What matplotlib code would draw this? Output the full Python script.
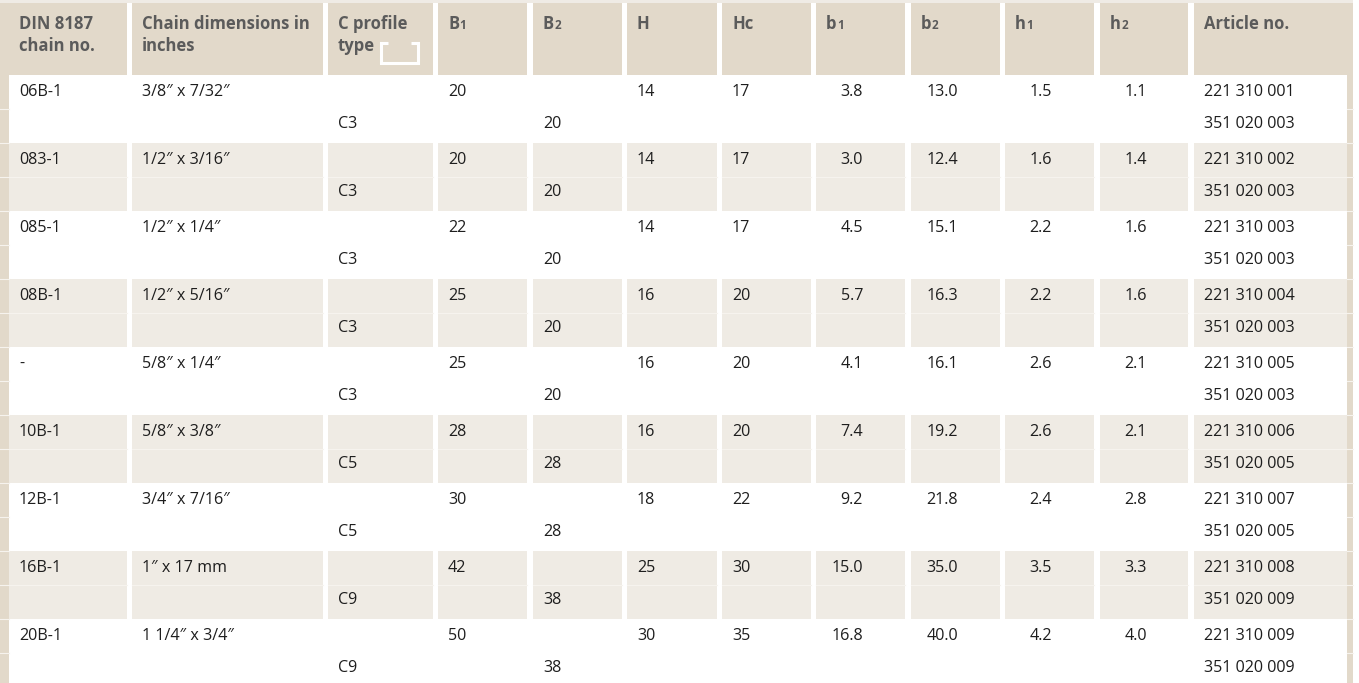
import matplotlib
matplotlib.use("Agg")
import matplotlib.pyplot as plt

# ---------------- data ----------------
headers = [["DIN 8187", "chain no."], ["Chain dimensions in", "inches"], ["C profile", "type"],
           ["B", "1"], ["B", "2"], ["H", ""], ["Hc", ""], ["b", "1"], ["b", "2"], ["h", "1"], ["h", "2"],
           ["Article no.", ""]]
chain_no = ["06B-1", "083-1", "085-1", "08B-1", "-", "10B-1", "12B-1", "16B-1", "20B-1"]
chain_dim = ["3/8\u2033 x 7/32\u2033", "1/2\u2033 x 3/16\u2033", "1/2\u2033 x 1/4\u2033", "1/2\u2033 x 5/16\u2033",
             "5/8\u2033 x 1/4\u2033", "5/8\u2033 x 3/8\u2033", "3/4\u2033 x 7/16\u2033", "1\u2033 x 17 mm",
             "1 1/4\u2033 x 3/4\u2033"]
profile = ["C3", "C3", "C3", "C3", "C3", "C5", "C5", "C9", "C9"]
B1 = [20, 20, 22, 25, 25, 28, 30, 42, 50]
B2 = [20, 20, 20, 20, 20, 28, 28, 38, 38]
H = [14, 14, 14, 16, 16, 16, 18, 25, 30]
Hc = [17, 17, 17, 20, 20, 20, 22, 30, 35]
b1 = [3.8, 3.0, 4.5, 5.7, 4.1, 7.4, 9.2, 15.0, 16.8]
b2 = [13.0, 12.4, 15.1, 16.3, 16.1, 19.2, 21.8, 35.0, 40.0]
h1 = [1.5, 1.6, 2.2, 2.2, 2.6, 2.6, 2.4, 3.5, 4.2]
h2 = [1.1, 1.4, 1.6, 1.6, 2.1, 2.1, 2.8, 3.3, 4.0]
article_chain = ["221 310 001", "221 310 002", "221 310 003", "221 310 004", "221 310 005",
                 "221 310 006", "221 310 007", "221 310 008", "221 310 009"]
article_profile = ["351 020 003", "351 020 003", "351 020 003", "351 020 003", "351 020 003",
                   "351 020 005", "351 020 005", "351 020 009", "351 020 009"]

# ---------------- layout ----------------
W, Hpx = 1359, 683
fig = plt.figure(figsize=(W / 100, Hpx / 100), dpi=100)
ax = fig.add_axes([0, 0, 1, 1])
ax.set_xlim(0, W)
ax.set_ylim(Hpx, 0)
ax.axis("off")

HEAD_C = "#e2d9ca"
BAND_C = "#efebe4"
TOP_C = "#efebe5"
LINE_C = "#f6f3ee"
HEAD_TXT = "#5b5b5b"
BODY_TXT = "#1e1e1e"
BODY_FONT = "Open Sans"
HEAD_FONT = "Open Sans"
FS = 11.6
HFS = 12.0

cols = [(9, 127), (132, 323), (328, 433), (438, 527), (533, 622), (627, 717), (722, 811),
        (816, 905), (911, 1000), (1005, 1094), (1100, 1188), (1194, 1347)]
head_top, head_bot = 3, 75
g0, pitch, sub = 75, 68, 34

def rect(x0, y0, x1, y1, c, z=0):
    ax.add_patch(plt.Rectangle((x0, y0), x1 - x0, y1 - y0, facecolor=c, edgecolor="none", zorder=z))

# top strip
rect(0, 0, 1353, head_top, TOP_C)
# header cells
for i, (a, b) in enumerate(cols):
    x0 = 0 if i == 0 else a
    x1 = 1353 if i == len(cols) - 1 else b
    rect(x0, head_top, x1, head_bot, HEAD_C)
# side strips
rect(0, head_bot, 9, Hpx, HEAD_C)
rect(1347, head_bot, 1353, Hpx, HEAD_C)
# bands
n = len(chain_no)
for gi in range(n):
    g = g0 + gi * pitch
    if gi % 2 == 1:
        for (a, b) in cols:
            rect(a, g, b, g + pitch, BAND_C)
# thin lighter lines at sub-row boundaries (visible on strips and bands only)
for gi in range(n):
    g = g0 + gi * pitch
    for yy in (g + sub, g + pitch):
        if yy < Hpx:
            ax.plot([0, 9], [yy, yy], color=LINE_C, lw=0.8, zorder=1)
            ax.plot([1347, 1353], [yy, yy], color=LINE_C, lw=0.8, zorder=1)
    if gi % 2 == 1:
        for (a, b) in cols:
            ax.plot([a, b], [g + sub, g + sub], color=LINE_C, lw=0.8, zorder=1)

renderer = fig.canvas.get_renderer()

# header text
for i, (a, b) in enumerate(cols):
    l1, l2 = headers[i]
    x = a + 10
    if i in (3, 4, 7, 8, 9, 10):
        t = ax.text(x, 24, l1, fontsize=HFS, fontweight="bold", family=HEAD_FONT, color=HEAD_TXT,
                    va="center", ha="left")
        bb = t.get_window_extent(renderer=renderer)
        ax.text(x + bb.width + 0.5, 29, l2, fontsize=HFS * 0.7, fontweight="bold", family=HEAD_FONT,
                color=HEAD_TXT, va="baseline", ha="left")
    else:
        ax.text(x, 24, l1, fontsize=HFS, fontweight="bold", family=HEAD_FONT, color=HEAD_TXT,
                va="center", ha="left")
        if l2:
            t2 = ax.text(x, 46, l2, fontsize=HFS, fontweight="bold", family=HEAD_FONT, color=HEAD_TXT,
                         va="center", ha="left")
            if i == 2:
                bb = t2.get_window_extent(renderer=renderer)
                xs = x + bb.width + 6
                ax.plot([xs + 7, xs, xs, xs + 37, xs + 37, xs + 30],
                        [42.5, 42.5, 63, 63, 42.5, 42.5], color="white", lw=2.2,
                        solid_joinstyle="miter", solid_capstyle="butt", zorder=3)

# body text
def put(col, y, s, align="left"):
    a, b = cols[col]
    if align == "left":
        ax.text(a + 10, y, s, fontsize=FS, family=BODY_FONT, color=BODY_TXT, va="center", ha="left")
    else:
        ax.text(a + 47, y, s, fontsize=FS, family=BODY_FONT, color=BODY_TXT, va="center", ha="right")

for gi in range(n):
    g = g0 + gi * pitch
    y1 = g + 16.5
    y2 = g + 49
    put(0, y1, chain_no[gi])
    put(1, y1, chain_dim[gi])
    put(2, y2, profile[gi])
    put(3, y1, f"{B1[gi]}")
    put(4, y2, f"{B2[gi]}")
    put(5, y1, f"{H[gi]}")
    put(6, y1, f"{Hc[gi]}")
    put(7, y1, f"{b1[gi]:.1f}", "right")
    put(8, y1, f"{b2[gi]:.1f}", "right")
    put(9, y1, f"{h1[gi]:.1f}", "right")
    put(10, y1, f"{h2[gi]:.1f}", "right")
    put(11, y1, article_chain[gi])
    put(11, y2, article_profile[gi])

fig.savefig("out.png", dpi=100)
